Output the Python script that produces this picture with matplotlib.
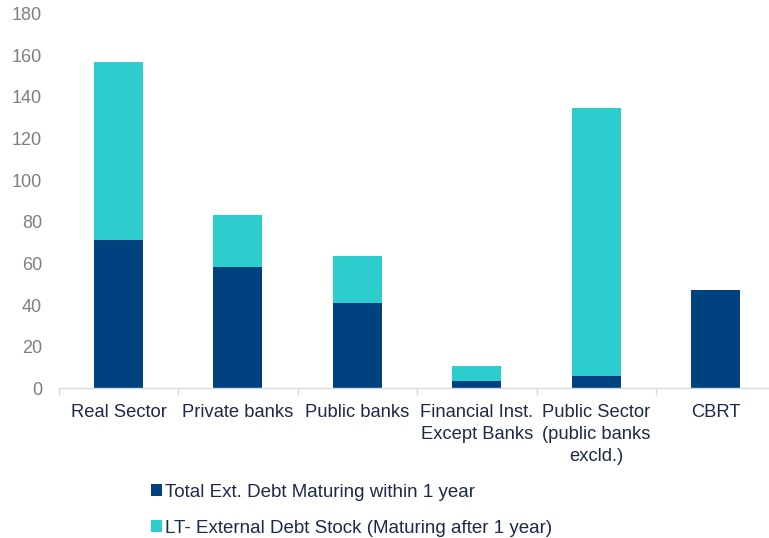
import matplotlib
matplotlib.use("Agg")
import matplotlib.pyplot as plt
from matplotlib.patches import Patch
import numpy as np

categories = ["Real Sector", "Private banks", "Public banks",
              "Financial Inst.\nExcept Banks", "Public Sector\n(public banks\nexcld.)", "CBRT"]
short_term = [71.4, 58.4, 41.1, 3.7, 5.9, 47.2]
long_term = [85.2, 24.7, 22.6, 7.2, 128.9, 0.0]
series_names = ["Total Ext. Debt Maturing within 1 year",
                "LT- External Debt Stock (Maturing after 1 year)"]
y_ticks = [0, 20, 40, 60, 80, 100, 120, 140, 160, 180]

dark_blue = "#00427f"
teal = "#2ecdcd"
text_navy = "#1b2a4a"
grey_text = "#7f7f7f"
axis_grey = "#d9d9d9"

plt.rcParams["font.family"] = ["Liberation Sans", "DejaVu Sans"]

W, H = 769, 538
fig = plt.figure(figsize=(W / 100, H / 100), dpi=100)
ax = fig.add_axes([58.7 / W, 1 - 388.3 / H, 717 / W, 374.6 / H])

x = np.arange(len(categories))
ax.bar(x, short_term, width=0.41, color=dark_blue, zorder=2)
ax.bar(x, long_term, width=0.41, bottom=short_term, color=teal, zorder=2)

ax.set_xlim(-0.5, len(categories) - 0.5)
ax.set_ylim(0, 180)
ax.set_yticks(y_ticks)
ax.set_yticklabels([str(v) for v in y_ticks])

ax.set_xticks(x)
ax.set_xticklabels(categories, fontsize=13.2, color=text_navy, linespacing=1.4)
ax.set_xticks(np.arange(-0.5, len(categories), 1), minor=True)
ax.tick_params(axis="x", which="major", length=0, pad=11)
ax.tick_params(axis="x", which="minor", length=5, width=1, color=axis_grey, direction="out")
ax.tick_params(axis="y", length=0, pad=12, labelsize=13, labelcolor=grey_text)

for side in ["top", "right", "left"]:
    ax.spines[side].set_visible(False)
ax.spines["bottom"].set_color(axis_grey)
ax.spines["bottom"].set_linewidth(1)

handles = [Patch(facecolor=dark_blue), Patch(facecolor=teal)]
fig.legend(handles, series_names, loc="upper left",
           bbox_to_anchor=(151 / W, 1 - 484 / H), frameon=False,
           fontsize=13.5, labelcolor=text_navy, handlelength=0.6, handleheight=0.6,
           handletextpad=0.15, labelspacing=1.0, borderpad=0, borderaxespad=0)

fig.savefig("out.png", dpi=100)
